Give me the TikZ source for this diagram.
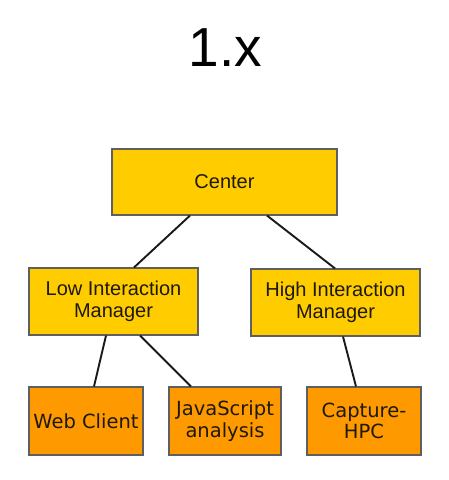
\documentclass[tikz,border=0pt]{standalone}
\usepackage{fontspec}
\setmainfont{Liberation Sans}
\newfontfamily\boxfont{DejaVu Sans}
\usetikzlibrary{positioning}
\definecolor{managergold}{RGB}{255,204,0}
\definecolor{workerorange}{RGB}{255,153,0}
\definecolor{edgegray}{RGB}{95,95,95}
\definecolor{linkblack}{RGB}{25,25,25}
\definecolor{labelblack}{RGB}{30,25,15}

\begin{document}
\begin{tikzpicture}[x=1pt, y=-1pt,
    managerbox/.style={draw=edgegray, line width=1.1pt, fill=managergold, align=center,
        inner sep=0pt, text=labelblack, font=\fontsize{20}{22.5}\selectfont},
    workerbox/.style={draw=edgegray, line width=1.1pt, fill=workerorange, align=center,
        inner sep=0pt, minimum height=68pt, text=labelblack, font=\boxfont\fontsize{19.5}{21.5}\selectfont},
    link/.style={draw=linkblack, line width=1.9pt}]
    \useasboundingbox (0,0) rectangle (448,480);

    % title
    \node (title) at (225.5,48) {\fontsize{55}{60}\selectfont 1.x};

    % managers
    \node[managerbox, minimum width=225pt, minimum height=66pt] (center) at (224.5,182) {Center};
    \node[managerbox, minimum width=169pt, minimum height=67pt] (lowmgr) at (113.5,301.5) {Low Interaction\\Manager};
    \node[managerbox, minimum width=169pt, minimum height=67pt] (highmgr) at (335.5,302.5) {High Interaction\\Manager};

    % clients
    \node[workerbox, minimum width=114pt] (webclient) at (86,421) {Web Client};
    \node[workerbox, minimum width=112pt] (jsanalysis) at (225,421) {JavaScript\\analysis};
    \node[workerbox, minimum width=114pt] (capturehpc) at (364,421) {Capture-\\HPC};

    % links
    \draw[link] ([xshift=-34.5pt]center.south) -- ([xshift=20.5pt]lowmgr.north);
    \draw[link] ([xshift=42.5pt]center.south) -- ([xshift=-0.5pt]highmgr.north);
    \draw[link] ([xshift=-7.5pt]lowmgr.south) -- ([xshift=8pt]webclient.north);
    \draw[link] ([xshift=26.5pt]lowmgr.south) -- ([xshift=-34pt]jsanalysis.north);
    \draw[link] ([xshift=7.5pt]highmgr.south) -- ([xshift=-8pt]capturehpc.north);
\end{tikzpicture}
\end{document}
